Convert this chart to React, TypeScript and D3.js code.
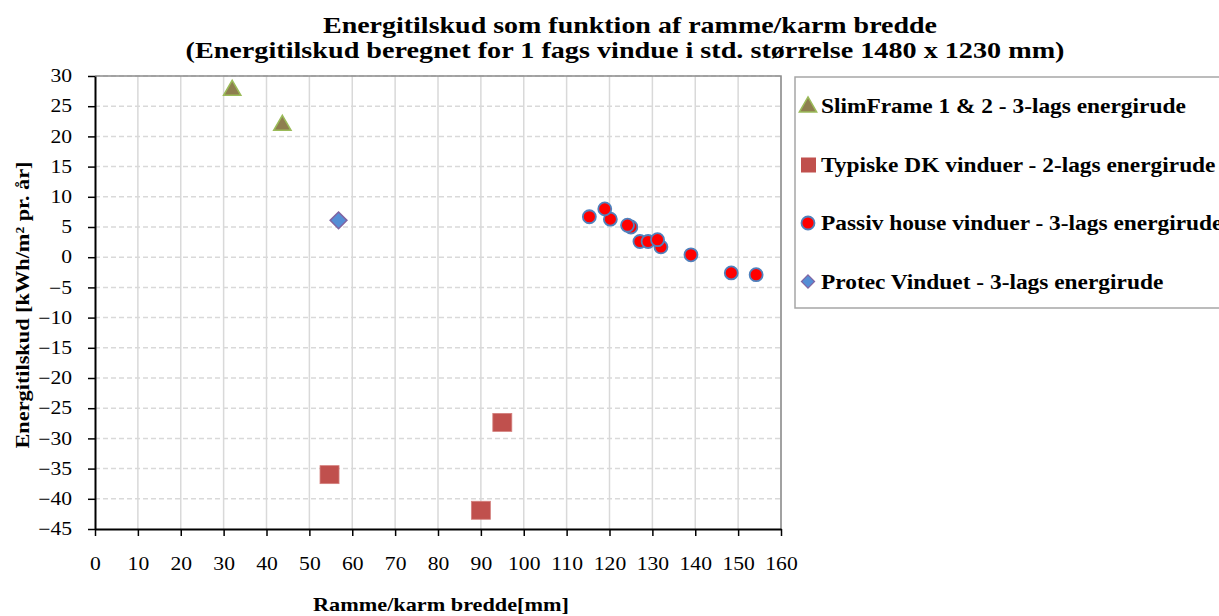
import React, { useRef, useEffect } from "react";
import * as d3 from "d3";

// series
const slimX = [32, 43.7];
const slimY = [27.8, 22.0];
const typX = [54.7, 90, 95];
const typY = [-36.0, -41.9, -27.35];
const passX = [115.3, 120.2, 118.9, 125.0, 124.2, 127.1, 129.0, 132.0, 131.2, 139.0, 148.4, 154.2];
const passY = [6.7, 6.3, 8.0, 5.0, 5.3, 2.6, 2.6, 1.7, 2.9, 0.4, -2.6, -2.9];
const protX = [56.8];
const protY = [6.1];

const xTicks = d3.range(0, 161, 10);
const yTicks = d3.range(-45, 31, 5);

const seriesNames = [
  "SlimFrame 1 & 2 - 3-lags energirude",
  "Typiske DK vinduer - 2-lags energirude",
  "Passiv house vinduer - 3-lags energirude",
  "Protec Vinduet  - 3-lags energirude",
];

const titleLines = [
  "Energitilskud som funktion af ramme/karm bredde",
  "(Energitilskud beregnet for 1 fags vindue i std. størrelse 1480 x 1230 mm)",
];

const FONT = "'Liberation Serif', 'Times New Roman', serif";

// the original text is a bit wider than Times at the same height
function stretch(sel: any, k: number) {
  sel.each(function (this: SVGTextElement) {
    const len = this.getComputedTextLength();
    d3.select(this).attr("textLength", len * k).attr("lengthAdjust", "spacingAndGlyphs");
  });
}

export default function App() {
  const svgRef = useRef<SVGSVGElement>(null);

  useEffect(() => {
    const W = 1219, H = 616;
    const margin = { top: 76, right: 438, bottom: 87, left: 95 };
    const svg = d3.select(svgRef.current);
    svg.selectAll("*").remove();
    svg.attr("width", W).attr("height", H);

    const x = d3.scaleLinear().domain([0, 160]).range([margin.left, W - margin.right]);
    const y = d3.scaleLinear().domain([-45, 30]).range([H - margin.bottom, margin.top]);

    const [x0, x1] = x.range();
    const [y0, y1] = y.range();

    // grid
    const grid = svg.append("g");
    grid.selectAll(".vg")
      .data(xTicks.slice(1))
      .enter().append("line")
      .attr("x1", d => x(d)).attr("x2", d => x(d))
      .attr("y1", y0).attr("y2", y1)
      .attr("stroke", "#d9d9d9").attr("stroke-width", 1.5);
    grid.selectAll(".hg")
      .data(yTicks.slice(1))
      .enter().append("line")
      .attr("x1", x0).attr("x2", x1)
      .attr("y1", d => y(d)).attr("y2", d => y(d))
      .attr("stroke", "#d9d9d9").attr("stroke-width", 1.5)
      .attr("stroke-dasharray", "5,3");

    // top / right border
    svg.append("path")
      .attr("d", `M${x0},${y1}H${x1}V${y0}`)
      .attr("fill", "none").attr("stroke", "#8c8c8c").attr("stroke-width", 1.5);

    // axes
    const xAxis = svg.append("g")
      .attr("transform", `translate(0,${y0})`)
      .call(d3.axisBottom(x).tickValues(xTicks).tickSize(7).tickPadding(18).tickSizeOuter(0));
    const yAxis = svg.append("g")
      .attr("transform", `translate(${x0},0)`)
      .call(d3.axisLeft(y).tickValues(yTicks).tickSize(7).tickPadding(16).tickSizeOuter(0));
    [xAxis, yAxis].forEach(a => {
      a.select(".domain").attr("stroke", "#000").attr("stroke-width", 2);
      a.selectAll(".tick line").attr("stroke", "#000").attr("stroke-width", 1.5);
      a.selectAll(".tick text")
        .attr("fill", "#000")
        .style("font-family", FONT)
        .style("font-size", "18px");
      stretch(a.selectAll(".tick text"), 1.2);
    });
    xAxis.selectAll(".tick text").attr("dy", "0.9em");

    // markers
    const tri = d3.symbol().type(d3.symbolTriangle).size(130);
    const dia = d3.symbol().type(d3.symbolDiamond2).size(180);

    const pts = svg.append("g");
    pts.selectAll(".tri")
      .data(slimX.map((v, i) => [v, slimY[i]]))
      .enter().append("path")
      .attr("transform", d => `translate(${x(d[0])},${y(d[1]) + 1})`)
      .attr("d", tri)
      .attr("fill", "#8e7f4f").attr("stroke", "#9bbb59").attr("stroke-width", 1.5);

    pts.selectAll(".sq")
      .data(typX.map((v, i) => [v, typY[i]]))
      .enter().append("rect")
      .attr("x", d => x(d[0]) - 9.5).attr("y", d => y(d[1]) - 9)
      .attr("width", 19).attr("height", 18)
      .attr("fill", "#c0504d").attr("stroke", "#d4807e").attr("stroke-width", 0.8);

    pts.selectAll(".circ")
      .data(passX.map((v, i) => [v, passY[i]]))
      .enter().append("circle")
      .attr("cx", d => x(d[0])).attr("cy", d => y(d[1]))
      .attr("r", 6.5)
      .attr("fill", "#ff0000").attr("stroke", "#4f81bd").attr("stroke-width", 1.8);

    pts.selectAll(".dia")
      .data(protX.map((v, i) => [v, protY[i]]))
      .enter().append("path")
      .attr("transform", d => `translate(${x(d[0])},${y(d[1])})`)
      .attr("d", dia)
      .attr("fill", "#558ed5").attr("stroke", "#8064a2").attr("stroke-width", 1.5);

    // title
    const titleW = [614, 879];
    svg.append("g").selectAll("text")
      .data(titleLines)
      .enter().append("text")
      .attr("x", (d, i) => (i === 0 ? 630 : 625))
      .attr("y", (d, i) => 33 + i * 25)
      .attr("text-anchor", "middle")
      .attr("textLength", (d, i) => titleW[i])
      .attr("lengthAdjust", "spacingAndGlyphs")
      .style("font-family", FONT).style("font-weight", "bold").style("font-size", "24px")
      .text(d => d);

    // axis titles
    svg.append("text")
      .attr("x", 441).attr("y", 611)
      .attr("text-anchor", "middle")
      .attr("textLength", 256).attr("lengthAdjust", "spacingAndGlyphs")
      .style("font-family", FONT).style("font-weight", "bold").style("font-size", "19px")
      .text("Ramme/karm bredde[mm]");

    svg.append("text")
      .attr("transform", `translate(29,305) rotate(-90)`)
      .attr("text-anchor", "middle")
      .attr("textLength", 287).attr("lengthAdjust", "spacingAndGlyphs")
      .style("font-family", FONT).style("font-weight", "bold").style("font-size", "19px")
      .text("Energitilskud  [kWh/m² pr. år]");

    // legend
    const lg = svg.append("g");
    lg.append("rect")
      .attr("x", 795).attr("y", 77).attr("width", 440).attr("height", 231)
      .attr("fill", "#fff").attr("stroke", "#a6a6a6").attr("stroke-width", 1.5);
    const rowY = (i: number) => 106 + i * 58.5;
    const mx = 808;
    lg.append("path").attr("transform", `translate(${mx},${rowY(0) + 1})`).attr("d", tri)
      .attr("fill", "#8e7f4f").attr("stroke", "#9bbb59").attr("stroke-width", 1.5);
    lg.append("rect").attr("x", mx - 7).attr("y", rowY(1) - 7).attr("width", 15).attr("height", 15)
      .attr("fill", "#c0504d");
    lg.append("circle").attr("cx", mx).attr("cy", rowY(2)).attr("r", 6.5)
      .attr("fill", "#ff0000").attr("stroke", "#4f81bd").attr("stroke-width", 1.8);
    lg.append("path").attr("transform", `translate(${mx},${rowY(3)})`)
      .attr("d", d3.symbol().type(d3.symbolDiamond2).size(110))
      .attr("fill", "#558ed5").attr("stroke", "#8064a2").attr("stroke-width", 1.2);
    const lt = lg.selectAll(".lt")
      .data(seriesNames)
      .enter().append("text")
      .attr("x", 821).attr("y", (d, i) => rowY(i))
      .attr("dy", "0.35em")
      .style("font-family", FONT).style("font-weight", "bold").style("font-size", "20.5px")
      .text(d => d);
    stretch(lt, 1.14);
  }, []);

  return <svg ref={svgRef} style={{ position: "absolute", left: 0, top: 0, background: "#fff" }} />;
}
